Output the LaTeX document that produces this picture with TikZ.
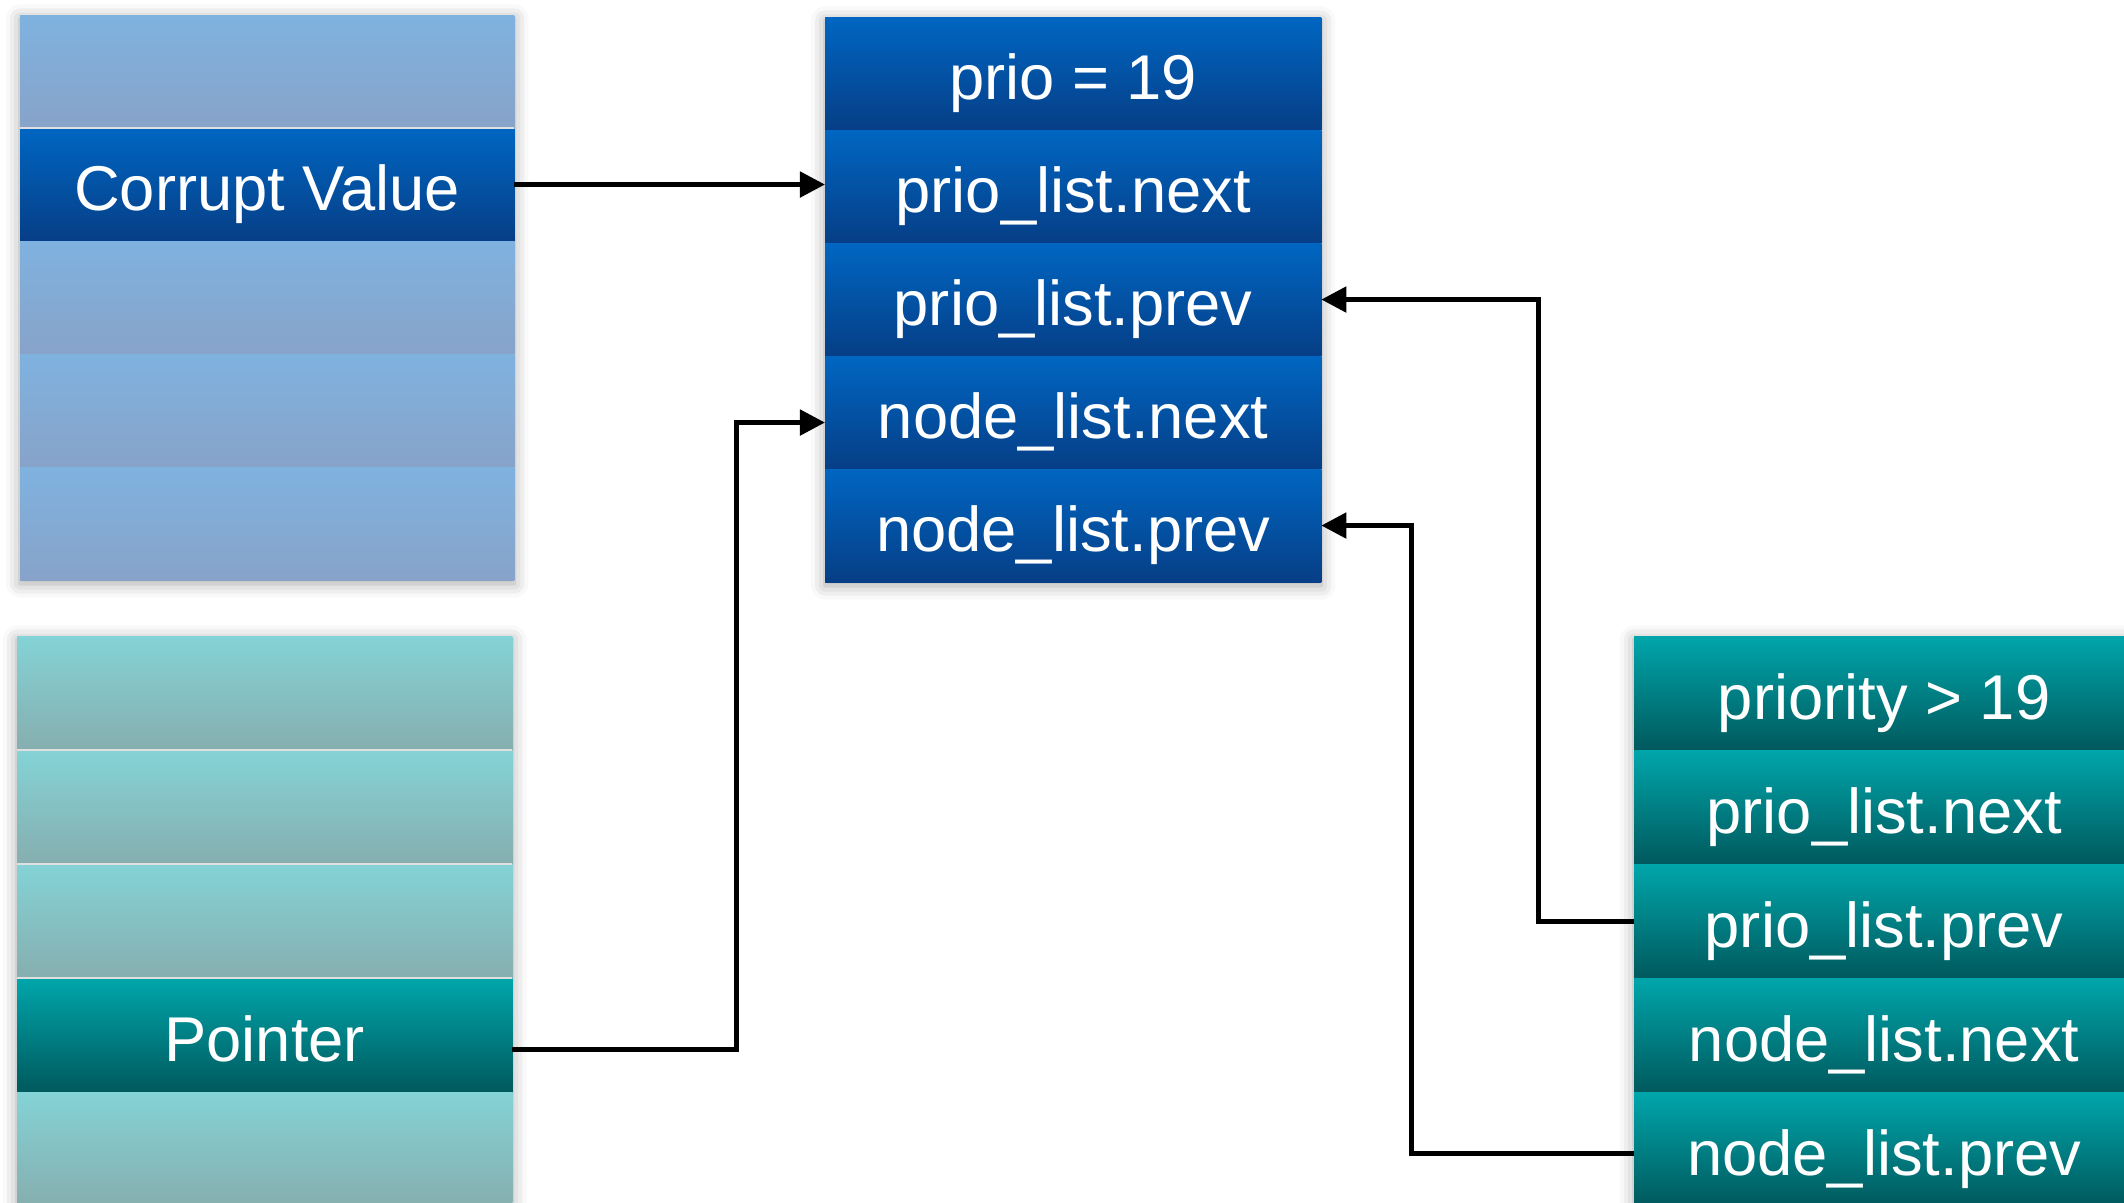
\documentclass[tikz,border=0pt]{standalone}
\usepackage{fontspec}
\setmainfont{Liberation Sans}
\usetikzlibrary{arrows.meta,shadows.blur,calc,backgrounds}
\definecolor{dkblueA}{HTML}{0066C2}
\definecolor{dkblueB}{HTML}{063E86}
\definecolor{ltblueA}{HTML}{7FB2DF}
\definecolor{ltblueB}{HTML}{87A3C9}
\definecolor{dktealA}{HTML}{00A6AB}
\definecolor{dktealB}{HTML}{00595D}
\definecolor{lttealA}{HTML}{84D3D6}
\definecolor{lttealB}{HTML}{86AEAF}
\begin{document}
\begin{tikzpicture}[x=0.01cm,y=-0.01cm,
  cell/.style={anchor=north west, inner sep=0pt, outer sep=0pt, text=white,
    font=\fontsize{18}{21}\selectfont, text height=0.52cm, text depth=0cm},
  leftcol/.style={minimum width=4.94cm, minimum height=1.13cm},
  leftcolt/.style={minimum width=4.95cm, minimum height=1.14cm},
  midcol/.style={minimum width=4.96cm, minimum height=1.13cm},
  rightcol/.style={minimum width=5.0cm, minimum height=1.14cm},
  dkblue/.style={cell, top color=dkblueA, bottom color=dkblueB},
  ltblue/.style={cell, top color=ltblueA, bottom color=ltblueB},
  dkteal/.style={cell, top color=dktealA, bottom color=dktealB},
  llteal/.style={cell, top color=lttealA, bottom color=lttealB},
  stackshadow/.style={fill=white, blur shadow={shadow xshift=0pt, shadow yshift=-1pt, shadow blur radius=4pt, shadow opacity=35}},
  arr/.style={line width=0.05cm, -{Triangle[length=0.25cm,width=0.25cm]}}
]
\useasboundingbox (0,0) rectangle (2124,1203);

% left blue stack
\node[ltblue, leftcol] (lb1) at (20,15) {};
\node[dkblue, leftcol] (cv) at (20,128) {Corrupt Value};
\node[ltblue, leftcol] (lb3) at (20,241) {};
\node[ltblue, leftcol] (lb4) at (20,354) {};
\node[ltblue, leftcol] (lb5) at (20,467) {};

% middle stack
\node[dkblue, midcol] (m1) at (825,17) {prio = 19};
\node[dkblue, midcol] (m2) at (825,130) {prio\_list.next};
\node[dkblue, midcol] (m3) at (825,243) {prio\_list.prev};
\node[dkblue, midcol] (m4) at (825,356) {node\_list.next};
\node[dkblue, midcol] (m5) at (825,469) {node\_list.prev};

% left teal stack
\node[llteal, leftcolt] (lt1) at (17,636) {};
\node[llteal, leftcolt] (lt2) at (17,750) {};
\node[llteal, leftcolt] (lt3) at (17,864) {};
\node[dkteal, leftcolt] (ptr) at (17,978) {Pointer};
\node[llteal, leftcolt] (lt5) at (17,1092) {};

% right teal stack
\node[dkteal, rightcol] (r1) at (1634,636) {priority > 19};
\node[dkteal, rightcol] (r2) at (1634,750) {prio\_list.next};
\node[dkteal, rightcol] (r3) at (1634,864) {prio\_list.prev};
\node[dkteal, rightcol] (r4) at (1634,978) {node\_list.next};
\node[dkteal, rightcol] (r5) at (1634,1092) {node\_list.prev};

% thin light separators in the light stacks
\foreach \a in {lb1,lt1,lt2,lt3}
  \draw[white!75!gray, line width=0.4pt] (\a.south west) -- (\a.south east);

% soft shadows behind the stacks
\begin{scope}[on background layer]
  \path[stackshadow] (lb1.north west) rectangle (lb5.south east);
  \path[stackshadow] (m1.north west) rectangle (m5.south east);
  \path[stackshadow] (lt1.north west) rectangle (lt5.south east);
  \path[stackshadow] (r1.north west) rectangle (r5.south east);
\end{scope}

% connectors
\draw[arr] (cv.east) -- (cv.east -| m2.west);
\draw[arr] ([yshift=-0.14cm]ptr.east) -- ++(224,0) |- ([yshift=-0.1cm]m4.west);
\draw[arr] (r3.west) -- ++(-96,0) |- (m3.east);
\draw[arr] ([yshift=-0.04cm]r5.west) -- ++(-223,0) |- (m5.east);
\end{tikzpicture}
\end{document}
